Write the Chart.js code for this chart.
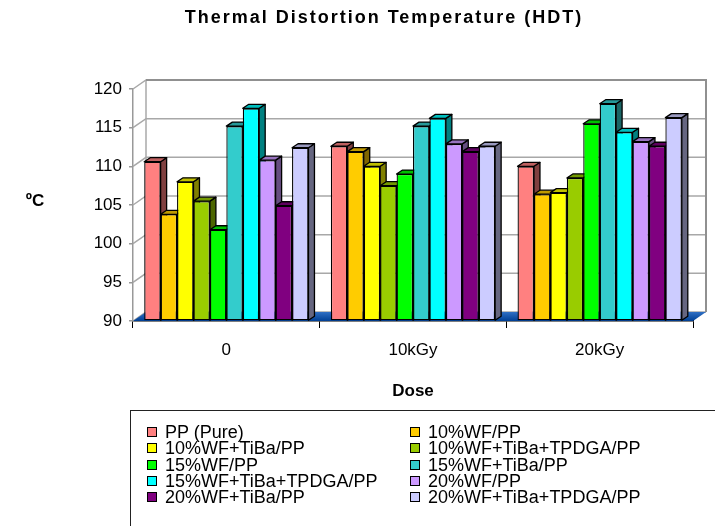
<!DOCTYPE html>
<html>
<head>
<meta charset="utf-8">
<script src="https://cdn.jsdelivr.net/npm/chart.js@4"></script>
<style>
  body { margin: 0; background: #fff; }
  #marco { position: relative; width: 715px; height: 526px; overflow: hidden; }
  #grafica { position: absolute; left: 0; top: 0; }
  #leyenda {
    position: absolute; left: 130px; top: 410px; width: 620px; height: 140px;
    border: 1px solid #222; font-family: "Liberation Sans", Arial, sans-serif; font-size: 18px; color: #000;
  }
  .item { position: absolute; height: 16px; line-height: 16px; display: flex; align-items: center; white-space: nowrap; }
  .caja { width: 10px; height: 10px; box-sizing: border-box; border: 1px solid #000; margin-right: 8px; }
</style>
</head>
<body>
<div id="marco">
  <canvas id="grafica" width="715" height="526"></canvas>
  <div id="leyenda"></div>
</div>
<script>
const categorias = ['0', '10kGy', '20kGy'];

const ppPuro      = [110.6, 112.6, 110.0];
const wf10        = [103.8, 111.9, 106.4];
const wf10Tiba    = [108.0, 110.0, 106.6];
const wf10Tpdga   = [105.5, 107.5, 108.5];
const wf15        = [101.8, 109.0, 115.5];
const wf15Tiba    = [115.2, 115.2, 118.1];
const wf15Tpdga   = [117.5, 116.2, 114.4];
const wf20        = [110.8, 112.9, 113.2];
const wf20Tiba    = [104.9, 111.9, 112.6];
const wf20Tpdga   = [112.4, 112.6, 116.3];

const nombres = [
  'PP (Pure)', '10%WF/PP', '10%WF+TiBa/PP', '10%WF+TiBa+TPDGA/PP', '15%WF/PP',
  '15%WF+TiBa/PP', '15%WF+TiBa+TPDGA/PP', '20%WF/PP', '20%WF+TiBa/PP', '20%WF+TiBa+TPDGA/PP'
];
const series = [ppPuro, wf10, wf10Tiba, wf10Tpdga, wf15, wf15Tiba, wf15Tpdga, wf20, wf20Tiba, wf20Tpdga];
const colores = ['#FF8080', '#FFCC00', '#FFFF00', '#99CC00', '#00FF00', '#33CCCC', '#00FFFF', '#CC99FF', '#800080', '#CCCCFF'];

const yMin = 90, yMax = 120, yPaso = 5;

const FUENTE = '"Liberation Sans", Arial, sans-serif';
// profundidad del "3D"
const PARED_DX = 13, PARED_DY = 9;
const BARRA_DX = 6, BARRA_DY = 4;

function oscurecer(hex, f) {
  const n = parseInt(hex.slice(1), 16);
  const r = Math.round(((n >> 16) & 255) * f);
  const g = Math.round(((n >> 8) & 255) * f);
  const b = Math.round((n & 255) * f);
  return `rgb(${r},${g},${b})`;
}

function poligono(ctx, pts, relleno) {
  ctx.beginPath();
  ctx.moveTo(pts[0][0], pts[0][1]);
  for (let i = 1; i < pts.length; i++) ctx.lineTo(pts[i][0], pts[i][1]);
  ctx.closePath();
  ctx.fillStyle = relleno;
  ctx.fill();
  ctx.stroke();
}

// paredes, rejilla del fondo y piso azul
const paredes = {
  id: 'paredes',
  beforeDatasetsDraw(chart) {
    const { ctx, chartArea: a } = chart;
    const y = chart.scales.y;
    ctx.save();
    ctx.strokeStyle = '#a8a8a8';
    ctx.lineWidth = 1.5;
    for (let v = yMin; v <= yMax; v += yPaso) {
      const py = y.getPixelForValue(v);
      ctx.beginPath();
      ctx.moveTo(a.left, py);
      ctx.lineTo(a.left + PARED_DX, py - PARED_DY);
      ctx.lineTo(a.right + PARED_DX, py - PARED_DY);
      ctx.stroke();
    }
    ctx.beginPath();
    ctx.moveTo(a.left + PARED_DX, a.top - PARED_DY);
    ctx.lineTo(a.left + PARED_DX, a.bottom - PARED_DY);
    ctx.stroke();
    ctx.strokeStyle = '#909090';
    ctx.lineWidth = 2;
    ctx.beginPath();
    ctx.moveTo(a.left + PARED_DX, a.top - PARED_DY);
    ctx.lineTo(a.right + PARED_DX, a.top - PARED_DY);
    ctx.lineTo(a.right + PARED_DX, a.bottom - PARED_DY);
    ctx.stroke();

    const grad = ctx.createLinearGradient(0, a.bottom - PARED_DY, 0, a.bottom);
    grad.addColorStop(0, '#2f6fc4');
    grad.addColorStop(1, '#003f94');
    ctx.beginPath();
    ctx.moveTo(a.left, a.bottom);
    ctx.lineTo(a.right, a.bottom);
    ctx.lineTo(a.right + PARED_DX, a.bottom - PARED_DY);
    ctx.lineTo(a.left + PARED_DX, a.bottom - PARED_DY);
    ctx.closePath();
    ctx.fillStyle = grad;
    ctx.fill();
    ctx.restore();
  },
  beforeDatasetDraw() {
    return false; // las barras se dibujan abajo, en orden de izquierda a derecha
  },
  afterDatasetsDraw(chart) {
    const { ctx } = chart;
    ctx.save();
    ctx.strokeStyle = '#000';
    ctx.lineWidth = 1.3;
    ctx.lineJoin = 'round';
    chart.data.datasets.forEach((ds, i) => {
      const meta = chart.getDatasetMeta(i);
      meta.data.forEach(barra => {
        const { x, y, base, width } = barra.getProps(['x', 'y', 'base', 'width'], true);
        const izq = x - width / 2, der = x + width / 2;
        poligono(ctx, [[der, y], [der + BARRA_DX, y - BARRA_DY], [der + BARRA_DX, base - BARRA_DY], [der, base]], oscurecer(colores[i], 0.5));
        poligono(ctx, [[izq, y], [izq + BARRA_DX, y - BARRA_DY], [der + BARRA_DX, y - BARRA_DY], [der, y]], oscurecer(colores[i], 0.75));
        barra.draw(ctx);
      });
    });
    ctx.restore();
  },
  afterDraw(chart) {
    const { ctx } = chart;
    ctx.save();
    ctx.fillStyle = '#000';
    ctx.textAlign = 'center';
    ctx.textBaseline = 'middle';
    ctx.font = `bold 18px ${FUENTE}`;
    ctx.letterSpacing = '2px';
    ctx.fillText('Thermal Distortion Temperature (HDT)', 384, 18);
    ctx.letterSpacing = '0px';
    ctx.font = `bold 17px ${FUENTE}`;
    ctx.fillText('ºC', 35, 201);
    ctx.restore();
  }
};

const ctx = document.getElementById('grafica').getContext('2d');

new Chart(ctx, {
  type: 'bar',
  data: {
    labels: categorias,
    datasets: series.map((datos, i) => ({
      label: nombres[i],
      data: datos,
      base: yMin,
      backgroundColor: colores[i],
      borderColor: '#000',
      borderWidth: 1.3,
      borderSkipped: false,
      categoryPercentage: 0.88,
      barPercentage: 1.0
    }))
  },
  options: {
    responsive: false,
    animation: false,
    events: [],
    layout: { padding: { top: 89, left: 0, right: 22, bottom: 121 } },
    scales: {
      x: {
        afterFit: s => { s.height = 84; },
        ticks: { color: '#000', font: { family: FUENTE, size: 17 }, padding: 12 },
        grid: { drawOnChartArea: false, tickLength: 7, color: '#000', lineWidth: 1 },
        border: { color: '#000', width: 1.5 },
        title: { display: true, text: 'Dose', color: '#000', font: { family: FUENTE, size: 17, weight: 'bold' }, padding: { top: 0, bottom: 3 } }
      },
      y: {
        min: yMin,
        max: yMax,
        afterFit: s => { s.width = 133; },
        ticks: { stepSize: yPaso, color: '#000', font: { family: FUENTE, size: 17 }, padding: 7 },
        grid: { drawOnChartArea: false, tickLength: 4, color: '#999', lineWidth: 1.5 },
        border: { color: '#999', width: 1.5 }
      }
    },
    plugins: {
      legend: { display: false },
      tooltip: { enabled: false }
    }
  },
  plugins: [paredes]
});

// leyenda en dos columnas
const leyenda = document.getElementById('leyenda');
nombres.forEach((nombre, i) => {
  const item = document.createElement('div');
  item.className = 'item';
  item.style.left = (i % 2 === 0 ? 16 : 279) + 'px';
  item.style.top = (13 + Math.floor(i / 2) * 16.3) + 'px';
  const caja = document.createElement('span');
  caja.className = 'caja';
  caja.style.background = colores[i];
  item.appendChild(caja);
  item.appendChild(document.createTextNode(nombre));
  leyenda.appendChild(item);
});
</script>
</body>
</html>
